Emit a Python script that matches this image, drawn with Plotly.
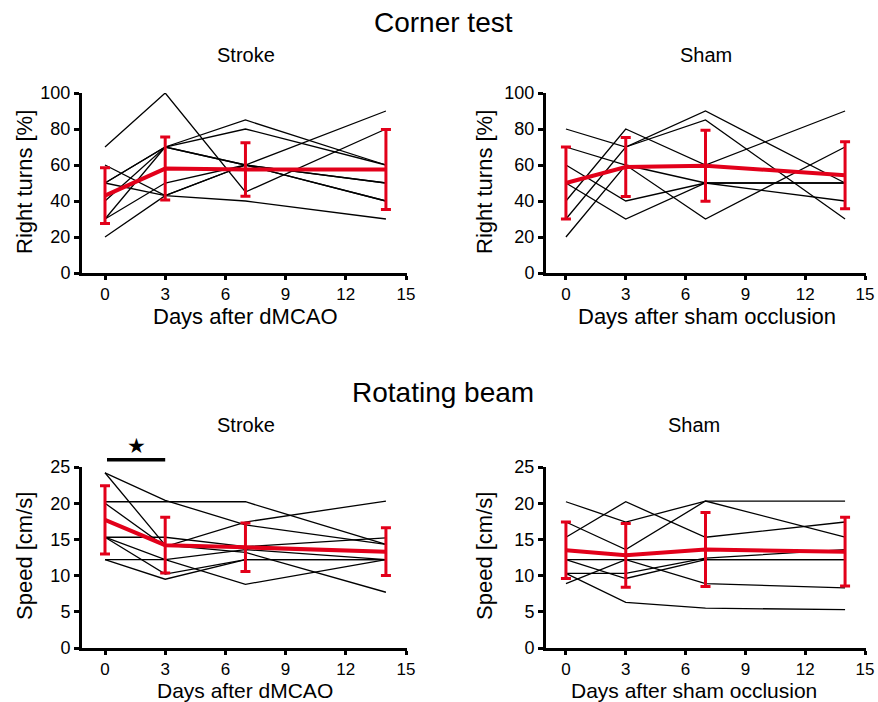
import plotly.graph_objects as go

W, H = 878, 702

days = [0, 3, 7, 14]
x_ticks = [0, 3, 6, 9, 12, 15]
corner_yticks = [0, 20, 40, 60, 80, 100]
beam_yticks = [0, 5, 10, 15, 20, 25]

# Corner test, stroke animals (% right turns)
corner_stroke = [
    [70, 100, 45, 80],
    [60, 43, 40, 30],
    [50, 70, 85, 60],
    [50, 70, 60, 50],
    [50, 43, 60, 40],
    [40, 70, 80, 60],
    [30, 50, 60, 40],
    [30, 70, 60, 50],
    [20, 43, 60, 90],
]
corner_stroke_mean = [43, 58, 57.5, 57.5]
corner_stroke_sd = [15.5, 17.5, 14.8, 22.2]

# Corner test, sham animals
corner_sham = [
    [80, 70, 90, 50],
    [70, 60, 50, 50],
    [60, 40, 50, 40],
    [50, 30, 50, 50],
    [40, 80, 60, 90],
    [30, 70, 85, 30],
    [20, 60, 30, 70],
]
corner_sham_mean = [50, 58.9, 59.6, 54.3]
corner_sham_sd = [20, 16.4, 19.7, 18.6]

# Rotating beam, stroke animals (cm/s)
beam_stroke = [
    [24.2, 20.4, 17.0, 14.3],
    [24.2, 14.2, 13.2, 7.7],
    [20.2, 20.2, 20.2, 14.3],
    [20.0, 14.0, 17.4, 20.3],
    [15.3, 15.3, 14.0, 15.2],
    [15.3, 10.2, 12.2, 12.2],
    [15.3, 12.2, 13.6, 12.2],
    [12.2, 9.5, 12.2, 12.2],
    [12.2, 12.2, 8.8, 12.2],
]
beam_stroke_mean = [17.7, 14.2, 13.9, 13.3]
beam_stroke_sd = [4.7, 3.85, 3.35, 3.3]

# Rotating beam, sham animals
beam_sham = [
    [20.2, 17.4, 20.3, 20.3],
    [17.4, 13.6, 20.3, 15.3],
    [15.3, 20.2, 15.3, 17.4],
    [12.2, 9.6, 12.2, 12.2],
    [12.2, 12.2, 8.9, 8.3],
    [10.3, 10.3, 12.4, 13.6],
    [10.3, 6.3, 5.5, 5.3],
    [8.9, 12.2, 12.2, 12.2],
]
beam_sham_mean = [13.5, 12.8, 13.6, 13.3]
beam_sham_sd = [3.9, 4.4, 5.1, 4.75]

sig_x = [0.1, 3.0]
sig_y = 26.0
star_y = 27.9

RED = "#E2001A"
FONT = "Arial, Liberation Sans, sans-serif"

fig = go.Figure()

panels = [
    ("x", "y", corner_stroke, corner_stroke_mean, corner_stroke_sd),
    ("x2", "y2", corner_sham, corner_sham_mean, corner_sham_sd),
    ("x3", "y3", beam_stroke, beam_stroke_mean, beam_stroke_sd),
    ("x4", "y4", beam_sham, beam_sham_mean, beam_sham_sd),
]

for xa, ya, indiv, mean, sd in panels:
    for row in indiv:
        fig.add_trace(go.Scatter(x=days, y=row, mode="lines", xaxis=xa, yaxis=ya,
                                 line=dict(color="black", width=1.3), showlegend=False,
                                 hoverinfo="skip"))
    fig.add_trace(go.Scatter(x=days, y=mean, mode="lines", xaxis=xa, yaxis=ya,
                             line=dict(color=RED, width=4), showlegend=False,
                             error_y=dict(type="data", array=sd, visible=True,
                                          color=RED, thickness=3, width=5)))

def px_x(p):
    return p / W

def px_y(p):
    return 1 - p / H

left_dom = [px_x(82), px_x(407)]
right_dom = [px_x(546), px_x(866)]
top_dom = [px_y(273), px_y(93)]
bot_dom = [px_y(648), px_y(467)]

left_xr = [-1.146, 15.05]
right_xr = [-1.0, 15.05]

common_x = dict(showline=True, linewidth=3, linecolor="black", ticks="outside",
                ticklen=4, tickwidth=3, tickcolor="black", tickvals=x_ticks,
                showgrid=False, zeroline=False, automargin=False,
                tickfont=dict(family=FONT, size=17, color="black"))
common_y = dict(showline=True, linewidth=3, linecolor="black", ticks="outside",
                ticklen=5, tickwidth=3, tickcolor="black",
                showgrid=False, zeroline=False, automargin=False,
                tickfont=dict(family=FONT, size=18, color="black"))

fig.update_layout(
    template="none",
    width=W, height=H,
    autosize=False,
    margin=dict(l=0, r=0, t=0, b=0, pad=0, autoexpand=False),
    paper_bgcolor="white", plot_bgcolor="white",
    font=dict(family=FONT, color="black"),
    xaxis=dict(domain=left_dom, range=left_xr, anchor="y", **common_x),
    yaxis=dict(domain=top_dom, range=[0, 100], anchor="x", tickvals=corner_yticks, **common_y),
    xaxis2=dict(domain=right_dom, range=right_xr, anchor="y2", **common_x),
    yaxis2=dict(domain=top_dom, range=[0, 100], anchor="x2", tickvals=corner_yticks, **common_y),
    xaxis3=dict(domain=left_dom, range=left_xr, anchor="y3", **common_x),
    yaxis3=dict(domain=bot_dom, range=[0, 25], anchor="x3", tickvals=beam_yticks, **common_y),
    xaxis4=dict(domain=right_dom, range=right_xr, anchor="y4", **common_x),
    yaxis4=dict(domain=bot_dom, range=[0, 25], anchor="x4", tickvals=beam_yticks, **common_y),
)

def txt(text, x, y, size, angle=0):
    fig.add_annotation(text=text, x=px_x(x), y=px_y(y), xref="paper", yref="paper",
                       showarrow=False, xanchor="center", yanchor="middle",
                       textangle=angle, borderpad=0,
                       font=dict(family=FONT, size=size, color="black"))

txt("Corner test", 443, 22, 28)
txt("Rotating beam", 443, 392, 28)
txt("Stroke", 246, 55, 20)
txt("Sham", 706, 55, 20)
txt("Stroke", 246, 425, 20)
txt("Sham", 694, 425, 20)
txt("Right turns [%]", 24, 182, 22, -90)
txt("Right turns [%]", 484, 182, 22, -90)
txt("Speed [cm/s]", 24, 556, 22, -90)
txt("Speed [cm/s]", 484, 556, 22, -90)
txt("Days after dMCAO", 245, 316, 22)
txt("Days after sham occlusion", 707, 316, 22)
txt("Days after dMCAO", 245, 690, 21)
txt("Days after sham occlusion", 694, 690, 21)

# significance bar and star on the stroke rotating-beam panel (via axis scale)
def fx(v):
    return (v - left_xr[0]) / (left_xr[1] - left_xr[0])

def fy(v):
    return v / 25.0

fig.add_shape(type="line", xref="x3 domain", yref="y3 domain",
              x0=fx(sig_x[0]), x1=fx(sig_x[1]), y0=fy(sig_y), y1=fy(sig_y),
              line=dict(color="black", width=3.5))
fig.add_annotation(text="★", xref="x3 domain", yref="y3 domain",
                   x=fx((sig_x[0] + sig_x[1]) / 2), y=fy(star_y),
                   showarrow=False, xanchor="center", yanchor="middle", borderpad=0,
                   font=dict(family="DejaVu Sans", size=21, color="black"))

fig.write_html("out.html", config={"responsive": False, "displayModeBar": False},
               post_script="document.body.style.margin='0';document.body.style.padding='0';document.body.style.overflow='hidden';")
